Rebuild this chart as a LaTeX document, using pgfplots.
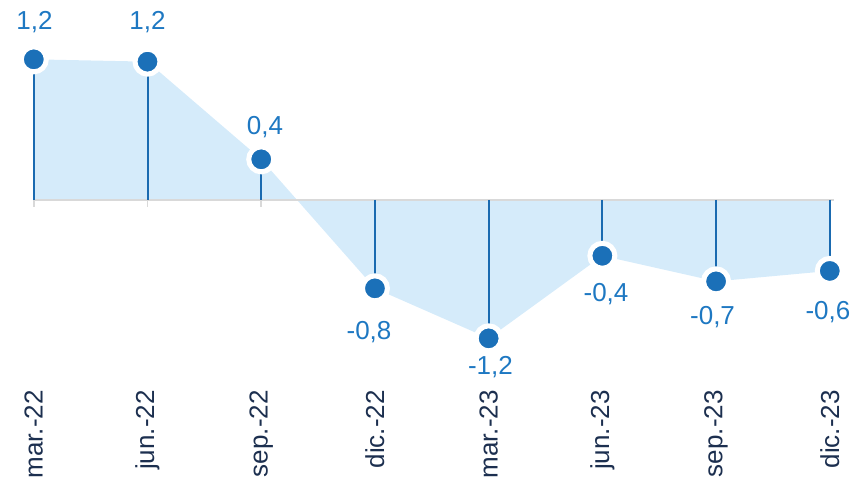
\documentclass[border=0pt]{standalone}
\usepackage{pgfplots}
\pgfplotsset{compat=1.18}
\usepackage{fontspec}
\setmainfont{Liberation Sans}

\definecolor{areafill}{HTML}{D5EBFA}
\definecolor{dotblue}{HTML}{1B70B8}
\definecolor{stemblue}{HTML}{1A6AB0}
\definecolor{lblblue}{HTML}{1E78C2}
\definecolor{navy}{HTML}{1C2F4F}
\definecolor{zerogray}{HTML}{D9D9D9}

% values (marker heights)
\pgfplotstableread{
x  y
0  1.21
1  1.19
2  0.35
3 -0.76
4 -1.19
5 -0.48
6 -0.70
7 -0.61
}\datatable

\begin{document}
\begin{tikzpicture}
\begin{axis}[
    scale only axis, width=427pt, height=195pt,
    xmin=-0.2972, xmax=7.2130, ymin=-1.6344, ymax=1.7204,
    clip=false,
    hide y axis,
    axis line style={draw=none},
    xtick={0,...,7},
    xticklabels={mar.-22,jun.-22,sep.-22,dic.-22,mar.-23,jun.-23,sep.-23,dic.-23},
    major tick length=0pt,
    xticklabel style={rotate=90, anchor=east, inner sep=0pt,
        font=\fontsize{13}{15}\selectfont, text=navy},
]
% shaded area
\addplot[draw=none, fill=areafill] table[x=x,y=y] {\datatable} \closedcycle;
% zero line and small ticks
\addplot[draw=zerogray, line width=0.8pt] coordinates {(0,0) (7.04,0)};
\addplot[ycomb, draw=zerogray, line width=0.8pt, mark=none] coordinates {
(0,-0.06) (1,-0.06) (2,-0.06) (3,-0.06) (4,-0.06) (5,-0.06) (6,-0.06) (7,-0.06)};
% stems + markers
\addplot[ycomb, draw=stemblue, line width=1pt, mark=*, mark size=6.25pt,
    mark options={fill=dotblue, draw=white, line width=2.5pt}]
    table[x=x,y=y] {\datatable};
% value labels
\addplot[only marks, mark=none, point meta=explicit symbolic,
    nodes near coords, nodes near coords align={center},
    every node near coord/.append style={font=\fontsize{13}{15}\selectfont, text=lblblue, inner sep=0pt}]
    coordinates {
    (0.006,1.531)[1,2]
    (1.00,1.531)[1,2]
    (2.033,0.624)[0,4]
    (2.948,-1.135)[-0,8]
    (4.016,-1.437)[-1,2]
    (5.032,-0.809)[-0,4]
    (5.969,-1.006)[-0,7]
    (6.984,-0.963)[-0,6]
    };
\end{axis}
\pgfresetboundingbox
\path[use as bounding box] ([yshift=-45.5pt]current axis.south west) rectangle (current axis.north east);
\end{tikzpicture}
\end{document}
